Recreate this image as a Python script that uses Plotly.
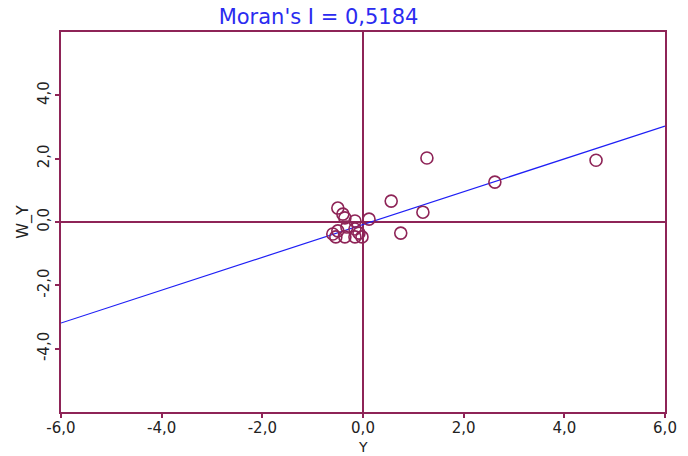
import plotly.graph_objects as go

# Standardised variable Y and its spatial lag W_Y
y_vals = [1.27, 0.56, 1.19, 0.75, 2.62, 4.63, -0.50, -0.40, -0.36, -0.16,
          0.12, -0.50, -0.60, -0.54, -0.32, -0.16, -0.08, -0.02, -0.36, -0.16]
wy_vals = [2.02, 0.66, 0.31, -0.35, 1.26, 1.95, 0.44, 0.25, 0.13, 0.03,
           0.09, -0.28, -0.38, -0.47, -0.16, -0.22, -0.35, -0.47, -0.47, -0.47]

moran_i = 0.5184
intercept = -0.08
line_x = [-6.0, 6.0]
line_y = [intercept + moran_i * v for v in line_x]

tick_vals = [-6, -4, -2, 0, 2, 4, 6]
tick_text = ["-6,0", "-4,0", "-2,0", "0,0", "2,0", "4,0", "6,0"]
ytick_vals = [-4, -2, 0, 2, 4]
ytick_text = ["-4,0", "-2,0", "0,0", "2,0", "4,0"]

axis_color = "#8E2457"
font_family = "DejaVu Sans"

fig = go.Figure()
fig.add_trace(go.Scatter(
    x=line_x, y=line_y, mode="lines",
    line=dict(color="#1F1FF5", width=1.2), hoverinfo="skip"))
fig.add_trace(go.Scatter(
    x=y_vals, y=wy_vals, mode="markers",
    marker=dict(symbol="circle-open", size=12, color=axis_color,
                line=dict(width=1.6, color=axis_color))))

fig.update_layout(
    width=688, height=456,
    margin=dict(l=61, r=23, t=32, b=44),
    paper_bgcolor="white", plot_bgcolor="white",
    showlegend=False,
    font=dict(family=font_family, size=15, color="#222222"),
    title=dict(text="Moran's I = 0,5184", x=0.463, xanchor="center",
               y=0.963, yanchor="middle",
               font=dict(family=font_family, size=21, color="#2B2BF0")),
    annotations=[dict(text="Y", xref="paper", yref="paper", x=0.5, y=-0.115,
                      xanchor="center", yanchor="bottom", showarrow=False,
                      borderpad=0, font=dict(size=14, color="#222222"))],
)
fig.update_xaxes(
    range=[-6, 6], tickvals=tick_vals, ticktext=tick_text, automargin=False,
    showgrid=False, zeroline=True, zerolinecolor=axis_color, zerolinewidth=1.5,
    showline=True, linecolor=axis_color, linewidth=2, mirror=True,
    ticks="outside", ticklen=4, tickcolor=axis_color, tickwidth=1.5,
    ticklabelstandoff=-3,
)
fig.update_yaxes(
    range=[-6, 6], tickvals=ytick_vals, ticktext=ytick_text, tickangle=-90,
    automargin=False,
    showgrid=False, zeroline=True, zerolinecolor=axis_color, zerolinewidth=1.5,
    showline=True, linecolor=axis_color, linewidth=2, mirror=True,
    ticks="outside", ticklen=4, tickcolor=axis_color, tickwidth=1.5,
    title=dict(text="W_Y", standoff=2, font=dict(size=16)),
)

fig.write_html("out.html")
